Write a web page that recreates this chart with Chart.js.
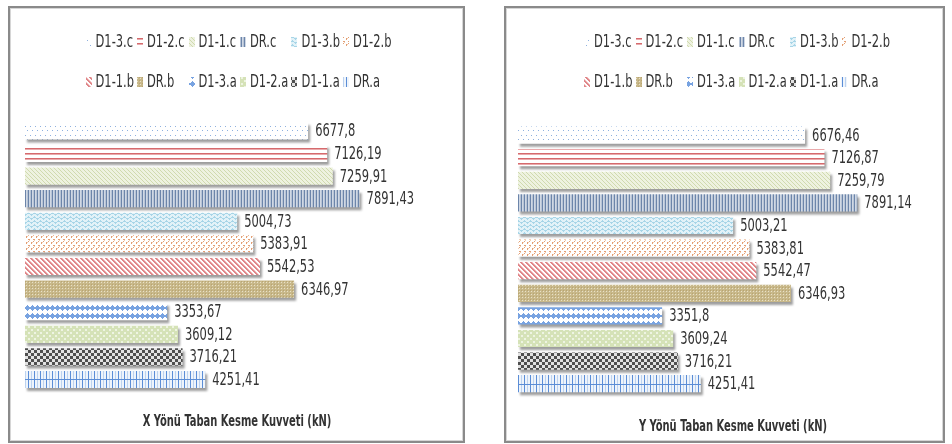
<!DOCTYPE html>
<html>
<head>
<meta charset="utf-8">
<script src="https://cdn.jsdelivr.net/npm/chart.js@4.4.1/dist/chart.umd.min.js"></script>
<style>
  html, body { margin: 0; padding: 0; background: #fff; width: 952px; height: 444px; overflow: hidden; }
  .panel { position: absolute; box-sizing: border-box; border: 2px solid #8a8a8a; box-shadow: inset 0 0 0 1px #d6d6d6; background: #fff; }
  #panelX { left: 8px; top: 6px; width: 457px; height: 437px; }
  #panelY { left: 504px; top: 6px; width: 441px; height: 437px; }
  canvas { position: absolute; }
  #chartX { left: 10px; top: 8px; }
  #chartY { left: 506px; top: 8px; }
</style>
</head>
<body>
<div class="panel" id="panelX"></div>
<div class="panel" id="panelY"></div>
<canvas id="chartX" width="452" height="433"></canvas>
<canvas id="chartY" width="446" height="433"></canvas>
<script>
// ---- data ----
const categories = ['Taban Kesme Kuvveti'];
const seriesNames = ['D1-3.c', 'D1-2.c', 'D1-1.c', 'DR.c', 'D1-3.b', 'D1-2.b', 'D1-1.b', 'DR.b', 'D1-3.a', 'D1-2.a', 'D1-1.a', 'DR.a'];
const xBaseShear = [6677.8, 7126.19, 7259.91, 7891.43, 5004.73, 5383.91, 5542.53, 6346.97, 3353.67, 3609.12, 3716.21, 4251.41];
const yBaseShear = [6676.46, 7126.87, 7259.79, 7891.14, 5003.21, 5383.81, 5542.47, 6346.93, 3351.8, 3609.24, 3716.21, 4251.41];
const xTitle = 'X Yönü Taban Kesme Kuvveti (kN)';
const yTitle = 'Y Yönü Taban Kesme Kuvveti (kN)';
const axisMax = 10000;

// ---- style ----
const FONT = "'DejaVu Sans Condensed', 'DejaVu Sans', sans-serif";
const TEXT = '#333333';
const TEXT_SX = 0.75;     // narrow lettering
Chart.defaults.font.family = FONT;
Chart.defaults.color = TEXT;

function narrowText(ctx, text, x, y, sx, align) {
  ctx.save();
  ctx.translate(x, y);
  ctx.scale(sx, 1);
  ctx.textAlign = align;
  ctx.fillText(text, 0, 0);
  ctx.restore();
}

// small tiles used as hatch fills, one per series
function tile(w, h, bg, pixels) {
  const c = document.createElement('canvas');
  c.width = w; c.height = h;
  const g = c.getContext('2d');
  g.fillStyle = bg; g.fillRect(0, 0, w, h);
  pixels.forEach(([color, pts]) => {
    g.fillStyle = color;
    pts.forEach(([x, y, pw = 1, ph = 1]) => g.fillRect(x, y, pw, ph));
  });
  return c;
}
function diagonal(n, width) {
  const pts = [];
  for (let y = 0; y < n; y++) for (let x = 0; x < n; x++) {
    if ((((x - y) % n) + n) % n < width) pts.push([x, y]);
  }
  return pts;
}
const hatchTiles = [
  // dotted blue
  () => tile(5, 9, '#ffffff', [['#8eb0de', [[0, 1], [2, 5]]]]),
  // red horizontal lines
  () => tile(1, 5, '#ffffff', [['#d56a6d', [[0, 0]]], ['#eaaaac', [[0, 1]]]]),
  // pale green fine diagonal
  () => tile(4, 4, '#eef2e0', [['#d0daae', diagonal(4, 1)]]),
  // blue-grey vertical lines
  () => tile(3, 1, '#d0d8e4', [['#6c85aa', [[0, 0]]], ['#b7c4d6', [[2, 0]]]]),
  // light blue zigzag
  () => tile(6, 4, '#e2f2f8', [['#a7d5e7', [[0, 0], [1, 1], [2, 2], [3, 3], [4, 2], [5, 1], [0, 1], [3, 2]]]]),
  // orange divots
  () => tile(5, 6, '#ffffff', [['#f2cdb3', [[2, 0], [4, 4]]], ['#e39f74', [[1, 0, 1, 2], [3, 3], [4, 3], [3, 5]]]]),
  // red wide diagonal
  () => tile(5, 5, '#ffffff', [['#f1c0c1', diagonal(5, 3)], ['#e0878a', diagonal(5, 2)]]),
  // tan small grid
  () => tile(3, 3, '#c8b88a', [['#e9e1c7', [[1, 1]]], ['#b9a571', [[0, 0]]]]),
  // blue diamonds
  () => tile(5, 8, '#ffffff', [['#78a3e1', [[2, 1], [1, 2, 3, 1], [0, 3, 5, 1], [0, 4, 5, 1], [1, 5, 3, 1], [2, 6]]]]),
  // pale green trellis
  () => tile(6, 6, '#d5e2b7', [['#eef4e2', [[0, 0, 2, 2], [3, 3, 2, 2]]]]),
  // dark checker
  () => tile(6, 6, '#e2e2e2', [['#4f4f4f', [[0, 0, 3, 3], [3, 3, 3, 3]]]]),
  // blue grid with one rule through the bar middle
  () => tile(6, 24, '#eef4fb', [['#bcd2ef', [[3, 0, 1, 24]]], ['#5b8dd6', [[0, 0, 1, 24], [0, 0, 6, 1]]]])
];

// bar shadow behind every series
const barShadow = {
  id: 'barShadow',
  beforeDatasetsDraw(chart) {
    // keep the grid rule of the last series on its bar middle
    const n = chart.data.datasets.length - 1;
    const last = chart.getDatasetMeta(n).data[0];
    const pat = chart.data.datasets[n].backgroundColor;
    if (last && pat.setTransform) pat.setTransform(new DOMMatrix([1, 0, 0, 1, 0, Math.round(last.y)]));
    const c = chart.ctx;
    c.save();
    c.shadowColor = 'rgba(0,0,0,0.38)';
    c.shadowBlur = 2;
    c.shadowOffsetX = 2;
    c.shadowOffsetY = 3;
  },
  afterDatasetsDraw(chart) { chart.ctx.restore(); }
};

// value written after each bar end
const valueLabels = {
  id: 'valueLabels',
  afterDraw(chart, args, o) {
    const ctx = chart.ctx;
    ctx.save();
    ctx.font = o.size + 'px ' + FONT;
    ctx.fillStyle = TEXT;
    ctx.textBaseline = 'middle';
    chart.data.datasets.forEach((ds, i) => {
      chart.getDatasetMeta(i).data.forEach((bar, j) => {
        narrowText(ctx, String(ds.data[j]).replace('.', ','), bar.x + o.gap, bar.y + 1, TEXT_SX, 'left');
      });
    });
    ctx.restore();
  }
};

// legend laid out as a grid of equal columns
const gridLegend = {
  id: 'gridLegend',
  afterDraw(chart, args, o) {
    const ctx = chart.ctx;
    const ds = chart.data.datasets;
    ctx.save();
    ctx.font = o.size + 'px ' + FONT;
    ctx.textBaseline = 'middle';
    const widths = ds.map(d => o.boxW + o.boxGap + ctx.measureText(d.label).width * TEXT_SX);
    const col = Math.max(...widths) + o.colGap;
    const firstRowLast = Math.min(o.perRow, ds.length) - 1;
    const extent = firstRowLast * col + widths[firstRowLast];
    const cx = (chart.chartArea.left + chart.chartArea.right) / 2 + o.shiftX;
    const x0 = cx - extent / 2;
    ds.forEach((d, i) => {
      const r = Math.floor(i / o.perRow), c = i % o.perRow;
      const x = x0 + c * col, y = o.rowY[r];
      ctx.fillStyle = d.backgroundColor;
      ctx.fillRect(Math.round(x), Math.round(y - o.boxH / 2), o.boxW, o.boxH);
      ctx.fillStyle = TEXT;
      narrowText(ctx, d.label, x + o.boxW + o.boxGap, y + 1, TEXT_SX, 'left');
    });
    ctx.restore();
  }
};

// bold caption under the bars
const caption = {
  id: 'caption',
  afterDraw(chart, args, o) {
    const ctx = chart.ctx;
    ctx.save();
    ctx.font = 'bold ' + o.size + 'px ' + FONT;
    ctx.fillStyle = TEXT;
    ctx.textBaseline = 'middle';
    narrowText(ctx, o.text, (chart.chartArea.left + chart.chartArea.right) / 2, o.y, o.sx, 'center');
    ctx.restore();
  }
};

function buildChart(id, values, title, pad, captionY, legendShift) {
  const canvas = document.getElementById(id);
  const ctx = canvas.getContext('2d');
  const datasets = seriesNames.map((name, i) => ({
    label: name,
    data: [values[i]],
    backgroundColor: ctx.createPattern(hatchTiles[i](), 'repeat'),
    borderWidth: 0,
    barPercentage: 0.76,
    categoryPercentage: 1,
    clip: false
  }));
  return new Chart(ctx, {
    type: 'bar',
    data: { labels: categories, datasets },
    options: {
      indexAxis: 'y',
      responsive: false,
      animation: false,
      events: [],
      layout: { padding: pad },
      scales: {
        x: { display: false, min: 0, max: axisMax },
        y: { display: false }
      },
      plugins: {
        legend: { display: false },
        tooltip: { enabled: false },
        title: { display: false },
        valueLabels: { size: 17, gap: 7 },
        gridLegend: { size: 17, boxW: 6, boxH: 10, boxGap: 4, colGap: 3, perRow: 6, rowY: [33.7, 73.7], shiftX: legendShift },
        caption: { text: title, size: 16, sx: 0.69, y: captionY }
      }
    },
    plugins: [barShadow, valueLabels, gridLegend, caption]
  });
}

buildChart('chartX', xBaseShear, xTitle,
  { top: 111.6, left: 15, right: 13, bottom: 50.2 }, 414, 1.5);
buildChart('chartY', yBaseShear, yTitle,
  { top: 115.8, left: 12, right: 4, bottom: 46 }, 418.5, 4);
</script>
</body>
</html>
